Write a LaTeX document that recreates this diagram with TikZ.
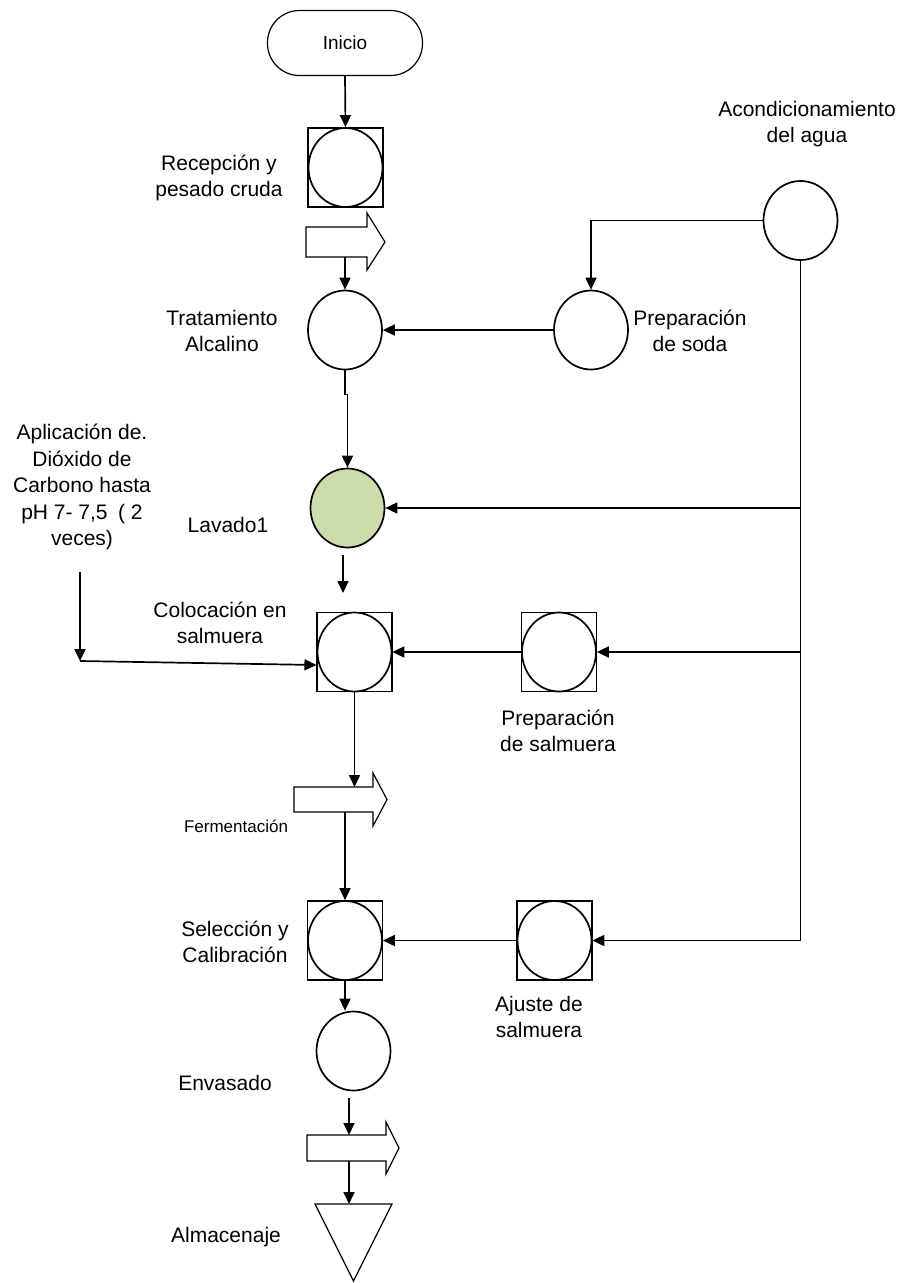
\documentclass[tikz,border=0pt]{standalone}
\usepackage{fontspec}
\setmainfont{Liberation Sans}
\usetikzlibrary{shapes.geometric,arrows.meta,calc}
\definecolor{lavgreen}{RGB}{204,220,170}
\begin{document}
\begin{tikzpicture}[x=1pt,y=-1pt,
  lbl/.style={align=center,font=\fontsize{21}{26.5}\selectfont,inner sep=0},
  proc/.style={draw,ellipse,line width=1.7pt,minimum width=74pt,minimum height=79pt,inner sep=0,fill=white},
  sqbox/.style={draw,rectangle,line width=1.1pt,minimum width=75pt,minimum height=79pt,inner sep=0},
  arr/.style={line width=1.7pt,-{Triangle[length=12pt,width=11pt]}},
  conn/.style={line width=1.7pt},
  tbody/.style={inner sep=0,outer sep=0,rectangle},
  tarrow/.style={draw,line width=1.2pt,fill=white,line join=miter}]
\useasboundingbox (0,0) rectangle (903,1283);

% start
\node[draw,rounded corners=32pt,minimum width=155pt,minimum height=65pt,line width=1.2pt,font=\fontsize{19}{23}\selectfont] (inicio) at (345,43) {Inicio};

% process symbols
\node[sqbox] (sqrec) at (345.5,167.5) {};
\node[proc] (rec) at (345.5,167.5) {};
\node[proc] (trat) at (345,330) {};
\node[proc] (soda) at (591,330) {};
\node[proc] (acond) at (800.5,220.5) {};
\node[proc,fill=lavgreen] (lav) at (347.5,508) {};
\node[sqbox] (sqcol) at (354.5,652) {};
\node[proc] (col) at (354.5,652) {};
\node[sqbox] (sqpsal) at (559,652) {};
\node[proc] (psal) at (559,652) {};
\node[sqbox] (sqsel) at (345,940.5) {};
\node[proc] (sel) at (345,940.5) {};
\node[sqbox] (sqaj) at (554.5,940.5) {};
\node[proc] (aj) at (554.5,940.5) {};
\node[proc] (env) at (353.5,1051) {};

% transport arrows
\node[tbody,minimum width=61pt,minimum height=30pt] (t1) at (336.5,242) {};
\draw[tarrow] (t1.north west) -- (t1.north east) -- ([yshift=14pt]t1.north east) -- ([xshift=18pt]t1.east) -- ([yshift=-13pt]t1.south east) -- (t1.south east) -- (t1.south west) -- cycle;
\node[tbody,minimum width=79pt,minimum height=25pt] (t2) at (333.5,799.5) {};
\draw[tarrow] (t2.north west) -- (t2.north east) -- ([yshift=14pt]t2.north east) -- ([xshift=14pt]t2.east) -- ([yshift=-14pt]t2.south east) -- (t2.south east) -- (t2.south west) -- cycle;
\node[tbody,minimum width=79pt,minimum height=26pt] (t3) at (346.5,1148) {};
\draw[tarrow] (t3.north west) -- (t3.north east) -- ([yshift=13pt]t3.north east) -- ([xshift=13pt]t3.east) -- ([yshift=-13pt]t3.south east) -- (t3.south east) -- (t3.south west) -- cycle;

% storage triangle
\coordinate (tri) at (353.5,1204);
\draw[line width=1.2pt,line join=miter] (315,1204) -- (392,1204) -- (353.5,1281) -- cycle;

% connectors
\draw[arr] (inicio.south) -- (rec.north);
\draw[arr] (trat.north |- t1.south) -- (trat.north);
\draw[arr] (trat.south) -- ++(0,24) -- ++(2.5,0) -- (lav.north);
\draw[arr] (soda.west) -- (trat.east);
\draw[arr] (acond.west) -| (soda.north);
\path (acond.south |- lav.east) coordinate (w1);
\path (acond.south |- psal.east) coordinate (w2);
\path (acond.south |- aj.east) coordinate (w3);
\draw[conn] (acond.south) -- (w3);
\draw[arr] (w1) -- (lav.east);
\draw[arr] (w2) -- (psal.east);
\draw[arr] (w3) -- (aj.east);
\draw[arr] (psal.west) -- (col.east);
\draw[arr] (aj.west) -- (sel.east);
\coordinate (l1) at (343,555);
\coordinate (l2) at (343,593);
\draw[arr] (l1) -- (l2);
\coordinate (c1) at (80,572);
\coordinate (c2) at (80,661);
\draw[arr] (c1) -- (c2);
\draw[arr] (c2) -- ([yshift=-13pt]sqcol.west);
\draw[arr] (col.south) -- (col.south |- t2.north);
\draw[arr] (sel.north |- t2.south) -- (sel.north);
\draw[arr] (sel.south) -- (sel.south |- env.north);
\coordinate (e1) at (349,1098);
\draw[arr] (e1) -- (e1 |- t3.north);
\draw[arr] (e1 |- t3.south) -- (e1 |- tri);

% labels
\node[lbl] (lrec) at (219,178) {Recepción y\\pesado cruda};
\node[lbl] (ltrat) at (222,331) {Tratamiento\\Alcalino};
\node[lbl] (lsoda) at (690,331) {Preparación\\de soda};
\node[lbl] (lacond) at (807,124) {Acondicionamiento\\del agua};
\node[lbl] (lco2) at (82,487) {Aplicación de.\\Dióxido de\\Carbono hasta\\pH 7- 7,5\enspace( 2\\veces)};
\node[lbl] (llav) at (228,525) {Lavado1};
\node[lbl] (lcol) at (220,623) {Colocación en\\salmuera};
\node[lbl] (lpsal) at (558,731) {Preparación\\de salmuera};
\node[lbl,font=\fontsize{17}{21}\selectfont] (lfer) at (236,826) {Fermentación};
\node[lbl] (lsel) at (235,942) {Selección y\\Calibración};
\node[lbl] (laj) at (539,1017) {Ajuste de\\salmuera};
\node[lbl] (lenv) at (225,1083) {Envasado};
\node[lbl] (lalm) at (226,1237) {Almacenaje};
\end{tikzpicture}
\end{document}
